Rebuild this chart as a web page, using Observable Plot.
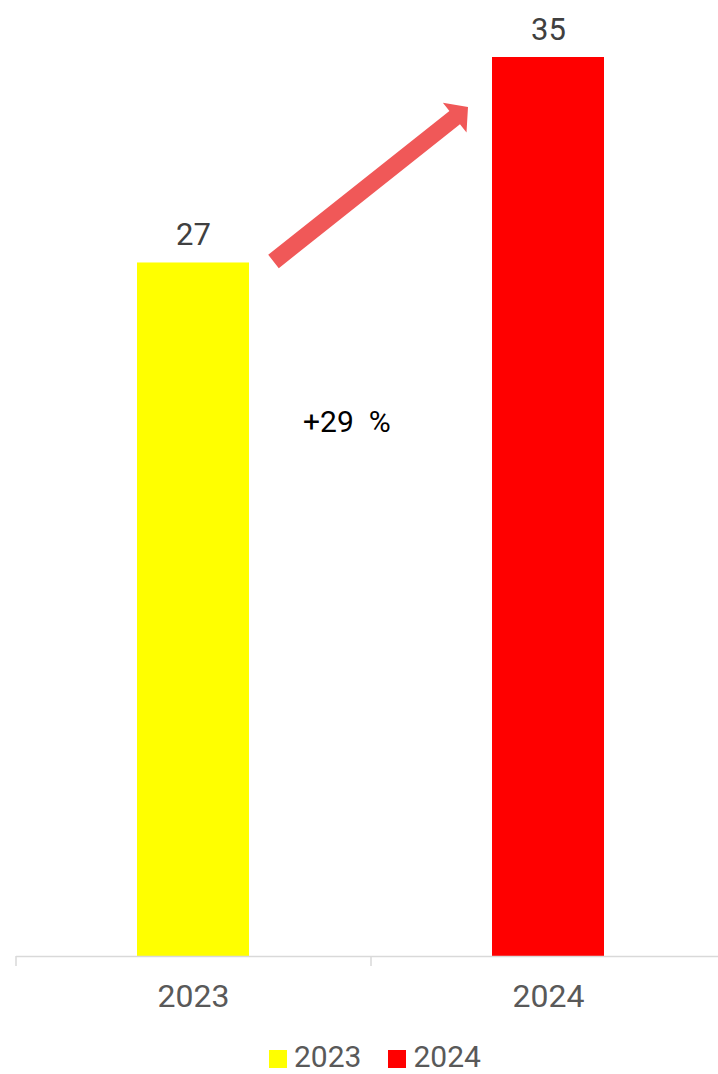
<!DOCTYPE html>
<html><head><meta charset="utf-8">
<script src="https://cdn.jsdelivr.net/npm/d3@7"></script>
<script src="https://cdn.jsdelivr.net/npm/@observablehq/plot@0.6"></script>
<style>
body{margin:0;background:#fff;font-family:Roboto,sans-serif;}
#wrap{position:relative;width:718px;height:1074px;overflow:hidden;}
#legend{position:absolute;left:269px;top:1039px;display:flex;align-items:center;font-size:30px;line-height:normal;color:#595959;}
.sw{width:18px;height:18px;margin-right:7px;margin-top:4px;}
.item{display:flex;align-items:center;margin-right:27px;}
</style></head><body><div id="wrap"><div id="chart"></div><div id="legend"></div></div>
<script>
const years = ["2023", "2024"];
const values = [27, 35];
const colors = ["#FFFF00", "#FF0000"];
const changeLabel = "+29  %";

const data = years.map((year, i) => ({year, value: values[i]}));
const PI = 0.6845, PO = PI / 2;

function arrowMark(index, scales) {
  const x = scales.x, y = scales.y;
  const bw = typeof x.bandwidth === "function" ? x.bandwidth() : 112;
  const g = d3.create("svg:g");
  const T = [x(years[0]) + bw + 24.5, y(values[0]) - 1];
  const P = [x(years[1]) - 24, y(values[1]) + 50];
  const dx = P[0] - T[0], dy = P[1] - T[1], L = Math.hypot(dx, dy);
  const u = [dx / L, dy / L], n = [-u[1], u[0]];
  const headLen = 17, headHalf = 19, shaftHalf = 8.5;
  const B = [P[0] - u[0] * headLen, P[1] - u[1] * headLen];
  const pt = (p, k) => [p[0] + n[0] * k, p[1] + n[1] * k];
  const pts = [pt(T, shaftHalf), pt(B, shaftHalf), pt(B, headHalf), P, pt(B, -headHalf), pt(B, -shaftHalf), pt(T, -shaftHalf)];
  g.append("polygon").attr("points", pts.map(p => p.join(",")).join(" ")).attr("fill", "#F05858");
  g.append("text")
    .attr("x", x(years[0]) + bw + 54)
    .attr("y", y(values[0]) + 170)
    .attr("text-anchor", "start")
    .attr("font-size", 30)
    .attr("fill", "#000")
    .style("white-space", "pre")
    .text(changeLabel);
  return g.node();
}

const chart = Plot.plot({
  width: 718, height: 1036,
  marginTop: 57, marginBottom: 80, marginLeft: 16, marginRight: 0,
  style: {fontFamily: "Roboto, sans-serif", background: "#fff"},
  x: {type: "band", domain: years, range: [16, 726], paddingInner: PI, paddingOuter: PO, align: 0.5, label: null},
  y: {domain: [0, 35], axis: null},
  color: {domain: years, range: colors},
  marks: [
    Plot.barY(data, {x: "year", y: "value", fill: "year"}),
    Plot.ruleY([0], {stroke: "#D9D9D9", strokeWidth: 1.5}),
    Plot.axisX({tickSize: 10, tickFormat: () => "", label: null, dx: -177.5, stroke: "#D9D9D9", strokeWidth: 1.5}),
    Plot.axisX({tickSize: 0, tickPadding: 28, label: null, fontSize: 32, fill: "#595959"}),
    Plot.text(data, {x: "year", y: "value", text: d => String(d.value), dy: -18, lineAnchor: "bottom", fontSize: 31, fill: "#404040"}),
    arrowMark
  ]
});
document.getElementById("chart").appendChild(chart);

const legend = document.getElementById("legend");
years.forEach((yr, i) => {
  const item = document.createElement("div");
  item.className = "item";
  const sw = document.createElement("div");
  sw.className = "sw";
  sw.style.background = colors[i];
  const t = document.createElement("span");
  t.textContent = yr;
  item.appendChild(sw); item.appendChild(t);
  legend.appendChild(item);
});
</script></body></html>
